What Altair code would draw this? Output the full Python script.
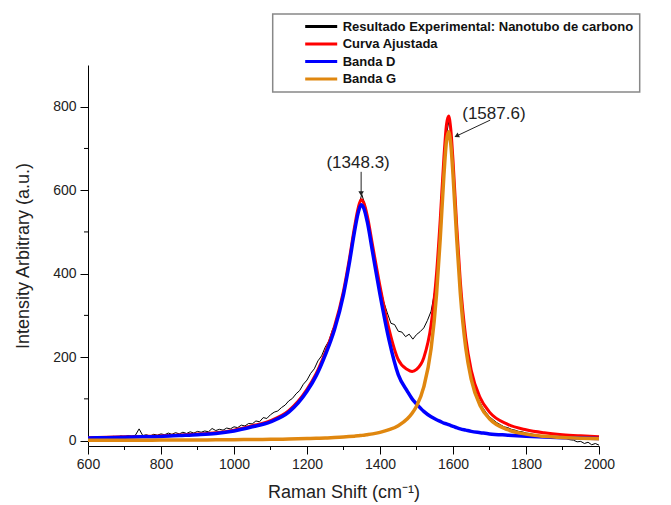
import altair as alt
import pandas as pd

# ---------------- data ----------------
series_names = [
    "Resultado Experimental: Nanotubo de carbono",
    "Curva Ajustada",
    "Banda D",
    "Banda G",
]
series_colors = ["#000000", "#ff0000", "#0000ff", "#e0870f"]

# experimental spectrum (read every 10 cm-1, 600..2000)
exp_x = list(range(600, 2001, 10))
exp_y = [
    4, 7, 3, 8, 6, 9, 5, 10, 8, 11,              # 600-690
    9, 12, 10, 13, 28, 12, 14, 11, 15, 13,       # 700-790
    16, 14, 18, 15, 19, 16, 20, 17, 21, 18,      # 800-890
    22, 20, 23, 21, 29, 24, 27, 25, 30, 28,      # 900-990
    33, 31, 37, 35, 41, 40, 47, 45, 55, 53,      # 1000-1090
    62, 68, 71, 79, 85, 95, 101, 112, 120, 135,  # 1100-1190
    145, 161, 172, 191, 203, 224, 239, 266, 284, 315,  # 1200-1290
    350, 402, 452, 512, 558, 590, 562, 518, 466, 414,  # 1300-1390
    372, 333, 306, 281, 278, 262, 260, 249, 255, 243,  # 1400-1490
    254, 261, 270, 288, 310, 358, 452, 585, 722, 772,  # 1500-1590
    668, 512, 372, 276, 208, 158, 124, 99, 81, 68,     # 1600-1690
    57, 50, 43, 38, 33, 31, 27, 25, 22, 21,            # 1700-1790
    18, 17, 15, 14, 12, 12, 10, 9, 8, 7,               # 1800-1890
    5, 5, 2, 1, -3, -2, -7, -4, -10, -7,               # 1900-1990
    -11,                                               # 2000
]

# fitted curves
fit_x = [600, 650, 700, 750, 800, 850, 900, 950, 1000, 1050,
         1100, 1150, 1200, 1225, 1250, 1275, 1300, 1315, 1330, 1340,
         1348, 1356, 1365, 1380, 1400, 1425, 1450, 1475, 1488, 1500, 1520,
         1540, 1555, 1565, 1575, 1582, 1588, 1594, 1600, 1610, 1620,
         1635, 1650, 1675, 1700, 1750, 1800, 1850, 1900, 1950, 2000]
band_d = [6, 7, 8, 9, 10, 12, 14, 17, 23, 33,
          45, 68, 118, 155, 205, 265, 350, 420, 500, 545,
          565, 556, 525, 450, 350, 240, 158, 118, 100, 88, 70,
          57, 50, 46, 42, 40, 38, 36, 34, 31, 28,
          25, 22, 19, 16, 13, 10.5, 8.5, 7, 6, 5]
band_g = [0.7, 0.8, 0.9, 1.0, 1.1, 1.3, 1.5, 1.8, 2.1, 2.5,
          3.0, 3.7, 4.7, 5.4, 6.2, 7.2, 8.5, 9.5, 10.6, 11.4,
          12.2, 13.0, 14.1, 16.1, 19.7, 26.0, 35.8, 52.1, 65.4, 82.4, 128.6,
          220.4, 351.4, 483.2, 635.1, 716.6, 739.9, 709.7, 637.9, 486.2, 353.6,
          221.7, 146.5, 82.7, 52.3, 26.0, 15.4, 10.2, 7.2, 5.4, 4.2]
curva = [6.7, 7.8, 8.9, 10, 11.1, 13.3, 15.5, 18.8, 25.1, 35.5,
         48, 71.7, 122.7, 160.4, 211.2, 272.2, 358.5, 429.5, 510.6, 556.4,
         577.2, 569, 539.1, 466.1, 369.7, 266, 193.8, 170.1, 165.4, 170.4, 198.6,
         277.4, 401.4, 529.2, 677.1, 756.6, 777.9, 745.7, 671.9, 517.2, 381.6,
         246.7, 168.5, 101.7, 68.3, 39, 25.9, 18.7, 14.2, 11.4, 9.2]

# axis ticks
x_major = [600, 800, 1000, 1200, 1400, 1600, 1800, 2000]
x_minor = [700, 900, 1100, 1300, 1500, 1700, 1900]
y_major = [0, 200, 400, 600, 800]
y_minor = [100, 300, 500, 700]

# annotations
ann_text = ["(1348.3)", "(1587.6)"]
ann_text_x = [1340, 1712]
ann_text_y = [666, 783]
arrow_x0 = [1348.3, 1702]
arrow_y0 = [644, 768]
arrow_x1 = [1348.3, 1610]
arrow_y1 = [592, 730]

# ---------------- chart ----------------
W, H = 511, 381
FONT = "Liberation Sans"

xscale = alt.Scale(domain=[600, 2000], nice=False, zero=False)
yscale = alt.Scale(domain=[-13, 900], nice=False, zero=False)

x_axis = alt.Axis(values=x_major, format="d", title="Raman Shift (cm⁻¹)", grid=False,
                  domainColor="black", tickColor="black", tickSize=8,
                  labelFontSize=14, labelFont=FONT, labelColor="#222",
                  labelPadding=3, labelFlush=False,
                  titleFontSize=18, titleFont=FONT, titleFontWeight="normal",
                  titleColor="#222", titlePadding=12)
y_axis = alt.Axis(values=y_major, format="d", title="Intensity Arbitrary (a.u.)", grid=False,
                  domainColor="black", tickColor="black", tickSize=8,
                  labelFontSize=14, labelFont=FONT, labelColor="#222",
                  labelPadding=4, labelFlush=False,
                  titleFontSize=18, titleFont=FONT, titleFontWeight="normal",
                  titleColor="#222", titlePadding=20)


def X(f="x"):
    return alt.X(f"{f}:Q", scale=xscale, axis=x_axis)


def Y(f="y"):
    return alt.Y(f"{f}:Q", scale=yscale, axis=y_axis)


legend = alt.Legend(
    title=None, orient="none", legendX=184.7, legendY=-51,
    symbolType="M-3.2,0H3.2", symbolSize=100, symbolStrokeWidth=3,
    symbolOffset=36, labelOffset=15,
    labelFontSize=13, labelFontWeight="bold", labelFont=FONT, labelColor="#111",
    labelLimit=600, labelExpr="datum.label + '\u00a0\u00a0'",
    strokeColor="#888", padding=6, rowPadding=3.5,
)
color = alt.Color("series:N", scale=alt.Scale(domain=series_names, range=series_colors),
                  legend=legend)

df_exp = pd.DataFrame({"x": exp_x, "y": exp_y, "series": series_names[0]})
df_red = pd.DataFrame({"x": fit_x, "y": curva, "series": series_names[1]})
df_d = pd.DataFrame({"x": fit_x, "y": band_d, "series": series_names[2]})
df_g = pd.DataFrame({"x": fit_x, "y": band_g, "series": series_names[3]})

l_exp = alt.Chart(df_exp).mark_line(strokeWidth=1).encode(x=X(), y=Y(), color=color)
l_red = alt.Chart(df_red).mark_line(strokeWidth=3, interpolate="monotone").encode(x=X(), y=Y(), color=color)
l_d = alt.Chart(df_d).mark_line(strokeWidth=3.5, interpolate="monotone").encode(x=X(), y=Y(), color=color)
l_g = alt.Chart(df_g).mark_line(strokeWidth=3.5, interpolate="monotone").encode(x=X(), y=Y(), color=color)

minor_x = alt.Chart(pd.DataFrame({"x": x_minor})).mark_rule(color="black", strokeWidth=1).encode(
    x=X(), y=alt.value(H), y2=alt.value(H + 4))
minor_y = alt.Chart(pd.DataFrame({"y": y_minor})).mark_rule(color="black", strokeWidth=1).encode(
    y=Y(), x=alt.value(0), x2=alt.value(-4))

df_ann = pd.DataFrame({"x": ann_text_x, "y": ann_text_y, "t": ann_text})
texts = alt.Chart(df_ann).mark_text(fontSize=17, font=FONT, color="#222",
                                    align="center", baseline="middle").encode(
    x=X(), y=Y(), text="t:N")

df_arrow = pd.DataFrame({"x": arrow_x0, "y": arrow_y0, "x2": arrow_x1, "y2": arrow_y1})
arrows = alt.Chart(df_arrow).mark_rule(color="#222", strokeWidth=1).encode(
    x=X(), y=Y(), x2="x2:Q", y2="y2:Q")
head_d = alt.Chart(df_arrow.iloc[[0]]).mark_point(shape="triangle-up", filled=True, size=30,
                                                  color="#222", opacity=1, angle=180).encode(
    x=X("x2"), y=Y("y2"))
head_g = alt.Chart(df_arrow.iloc[[1]]).mark_point(shape="triangle-up", filled=True, size=30,
                                                  color="#222", opacity=1, angle=244).encode(
    x=X("x2"), y=Y("y2"))

chart = alt.layer(
    l_exp, l_red, l_d, l_g, minor_x, minor_y, arrows, head_d, head_g, texts
).properties(
    width=W, height=H,
    autosize=alt.AutoSizeParams(type="none"),
    padding={"left": 88, "top": 65, "right": 72, "bottom": 59},
    background="white",
).configure_view(stroke=None).configure_legend(strokeWidth=1.5)

chart.save("out.html", embed_options={"renderer": "svg", "actions": False})
